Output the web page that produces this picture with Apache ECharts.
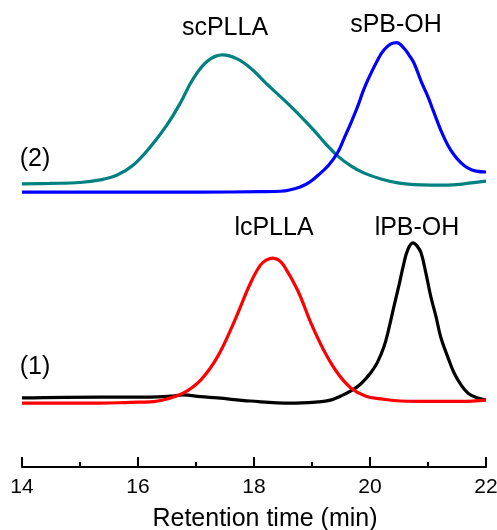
<!DOCTYPE html>
<html>
<head>
<meta charset="utf-8">
<script src="https://cdn.jsdelivr.net/npm/echarts@6/dist/echarts.min.js"></script>
<style>html,body{margin:0;padding:0;background:#fff}#c{width:497px;height:530px}</style>
</head>
<body>
<div id="c"></div>
<script>
// Retention time (min) and detector signal (arbitrary units, offset traces)
const scPLLA = [[14.00,64.8],[14.48,64.9],[15.00,65.1],[15.35,65.7],[15.64,66.8],[15.92,69.1],[16.21,73.2],[16.50,78.3],[16.73,83.3],[16.95,88.8],[17.20,92.9],[17.46,94.3],[17.71,93.4],[17.94,91.3],[18.20,87.9],[18.46,84.7],[18.75,81.0],[19.03,77.1],[19.24,73.9],[19.44,71.2],[19.67,68.9],[19.89,67.3],[20.19,65.9],[20.48,65.0],[20.76,64.6],[21.05,64.5],[21.34,64.5],[21.62,64.8],[22.00,65.4]];
const sPBOH = [[14.00,62.9],[15.35,62.9],[17.08,62.9],[18.11,63.0],[18.46,63.1],[18.80,64.1],[18.98,65.4],[19.15,67.3],[19.29,69.1],[19.44,71.9],[19.55,75.1],[19.67,78.7],[19.79,82.6],[19.89,86.3],[20.01,89.9],[20.13,93.1],[20.24,95.4],[20.36,96.8],[20.46,97.1],[20.58,95.9],[20.67,94.3],[20.76,92.4],[20.88,88.3],[21.00,84.7],[21.10,81.2],[21.22,77.1],[21.34,73.7],[21.45,71.4],[21.57,69.6],[21.69,68.4],[21.83,67.7],[22.00,67.5]];
const lcPLLA = [[14.00,14.6],[15.35,14.6],[15.87,14.8],[16.21,14.9],[16.50,15.6],[16.78,16.9],[17.08,19.9],[17.37,25.2],[17.65,33.0],[17.94,42.1],[18.11,46.2],[18.22,47.4],[18.32,47.8],[18.42,47.4],[18.51,46.2],[18.75,40.5],[18.98,33.0],[19.20,26.8],[19.44,21.5],[19.67,18.1],[19.93,16.2],[20.19,15.6],[20.53,15.1],[21.05,15.0],[21.57,15.0],[22.00,15.3]];
const lPBOH = [[14.00,15.8],[15.35,16.0],[16.21,16.0],[16.56,16.2],[16.78,16.5],[17.08,16.1],[17.37,15.8],[17.94,15.1],[18.63,14.6],[19.10,14.9],[19.32,15.3],[19.49,16.2],[19.67,17.4],[19.84,19.0],[20.01,21.5],[20.13,24.0],[20.24,27.5],[20.32,31.4],[20.41,36.6],[20.50,41.6],[20.57,45.8],[20.65,49.7],[20.74,51.3],[20.81,50.6],[20.88,49.0],[20.96,44.6],[21.05,38.9],[21.14,34.3],[21.22,29.7],[21.34,25.2],[21.45,21.5],[21.57,18.8],[21.69,16.9],[21.86,15.8],[22.00,15.3]];
const xTicks = [14, 16, 18, 20, 22];
const axisTitle = 'Retention time (min)';
const labels = ['scPLLA', 'sPB-OH', 'lcPLLA', 'lPB-OH', '(2)', '(1)'];

const FONT = '"Liberation Sans", Arial, sans-serif';
const chart = echarts.init(document.getElementById('c'), null, {renderer: 'canvas'});
function line(data, color) {
  return {type: 'line', data: data, smooth: 0.4, symbol: 'none',
    lineStyle: {color: color, width: 3.2}, z: 3};
}
function txt(t, x, y) {
  return {type: 'text', x: x, y: y, style: {text: t, x: 0, y: 0, align: 'center', verticalAlign: 'middle',
    font: '25px ' + FONT, fill: '#000'}};
}
const xMin = xTicks[0], xMax = xTicks[xTicks.length - 1];
chart.setOption({
  animation: false,
  grid: {left: 22, right: 11, top: 30, bottom: 63, containLabel: false, outerBoundsMode: 'none'},
  xAxis: [{
    type: 'value', min: xMin, max: xMax, interval: 2,
    name: axisTitle, nameLocation: 'middle', nameGap: 40,
    nameTextStyle: {fontFamily: FONT, fontSize: 25, color: '#000', padding: [0, 0, 0, 22]},
    axisLine: {onZero: false, lineStyle: {color: '#000', width: 2}},
    axisTick: {inside: true, length: 10, lineStyle: {color: '#000', width: 2}},
    axisLabel: {margin: 10, fontFamily: FONT, fontSize: 21, color: '#000'},
    splitLine: {show: false}
  }, {
    type: 'value', min: xMin, max: xMax, interval: 1, position: 'bottom',
    axisLine: {show: false},
    axisTick: {inside: true, length: 5, lineStyle: {color: '#000', width: 2}},
    axisLabel: {show: false}, splitLine: {show: false}
  }],
  yAxis: {type: 'value', min: 0, max: 100, show: false},
  series: [line(lPBOH, '#000000'), line(lcPLLA, '#ff0000'), line(scPLLA, '#008080'), line(sPBOH, '#0000ff')],
  graphic: [txt(labels[0], 225, 28), txt(labels[1], 396, 25), txt(labels[2], 274, 228), txt(labels[3], 417, 228), txt(labels[4], 35, 159), txt(labels[5], 35, 367)]
});
</script>
</body>
</html>
